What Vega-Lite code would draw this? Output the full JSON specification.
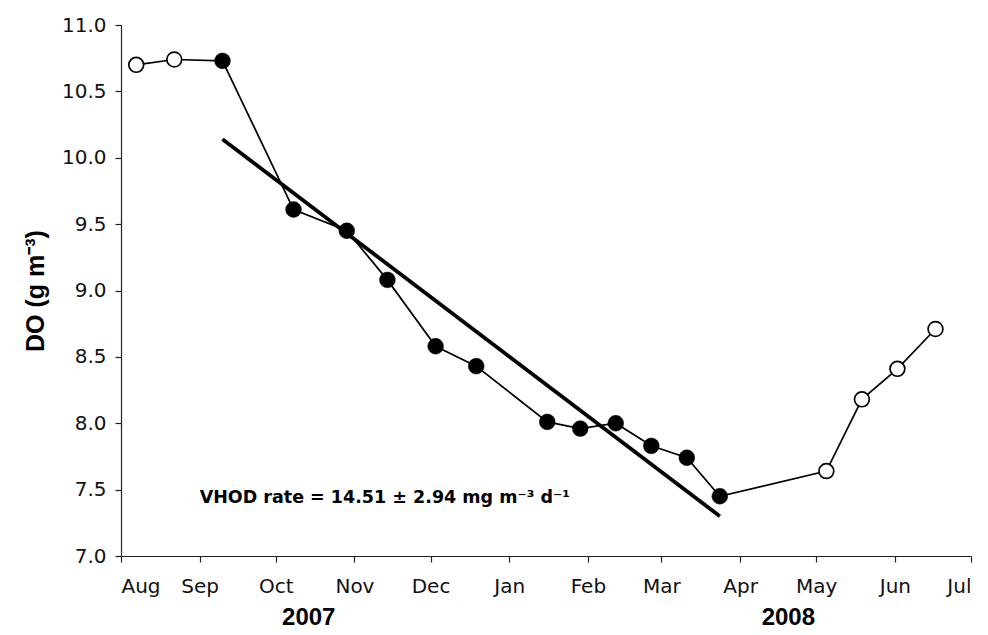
{
  "$schema": "https://vega.github.io/schema/vega-lite/v6.json",
  "autosize": {"type": "none"},
  "width": 850,
  "height": 531,
  "padding": {"left": 121, "top": 25, "right": 17, "bottom": 79},
  "background": "white",
  "config": {
    "view": {"stroke": null},
    "font": "Liberation Sans",
    "axis": {"grid": false, "domainColor": "#222", "tickColor": "#222", "labelColor": "#111", "labelFont": "DejaVu Sans", "labelFontSize": 20, "tickSize": 6, "domainWidth": 1.2, "tickWidth": 1.2}
  },
  "datasets": {
    "obs": [
      {"date": "2007-08-07", "DO": 10.70, "type": "open"},
      {"date": "2007-08-22", "DO": 10.74, "type": "open"},
      {"date": "2007-09-10", "DO": 10.73, "type": "filled"},
      {"date": "2007-10-08", "DO": 9.61, "type": "filled"},
      {"date": "2007-10-29", "DO": 9.45, "type": "filled"},
      {"date": "2007-11-14", "DO": 9.08, "type": "filled"},
      {"date": "2007-12-03", "DO": 8.58, "type": "filled"},
      {"date": "2007-12-19", "DO": 8.43, "type": "filled"},
      {"date": "2008-01-16", "DO": 8.01, "type": "filled"},
      {"date": "2008-01-29", "DO": 7.96, "type": "filled"},
      {"date": "2008-02-12", "DO": 8.00, "type": "filled"},
      {"date": "2008-02-26", "DO": 7.83, "type": "filled"},
      {"date": "2008-03-11", "DO": 7.74, "type": "filled"},
      {"date": "2008-03-24", "DO": 7.45, "type": "filled"},
      {"date": "2008-05-05", "DO": 7.64, "type": "open"},
      {"date": "2008-05-19", "DO": 8.18, "type": "open"},
      {"date": "2008-06-02", "DO": 8.41, "type": "open"},
      {"date": "2008-06-17", "DO": 8.71, "type": "open"}
    ],
    "trend": [
      {"date": "2007-09-10", "DO": 10.14},
      {"date": "2008-03-24", "DO": 7.30}
    ],
    "years": [
      {"date": "2007-10-14", "DO": 6.53, "label": "2007"},
      {"date": "2008-04-20", "DO": 6.53, "label": "2008"}
    ],
    "note": [
      {"date": "2007-09-01", "DO": 7.44, "label": "VHOD rate = 14.51 ± 2.94 mg m⁻³ d⁻¹"}
    ]
  },
  "encoding": {
    "x": {
      "field": "date", "type": "temporal",
      "scale": {"type": "utc", "domain": [{"year": 2007, "month": 8, "date": 1, "utc": true}, {"year": 2008, "month": 7, "date": 1, "utc": true}]},
      "axis": {
        "title": null, "format": "%b", "labelPadding": 14,
        "values": [
          {"year": 2007, "month": 8, "date": 1, "utc": true},
          {"year": 2007, "month": 9, "date": 1, "utc": true},
          {"year": 2007, "month": 10, "date": 1, "utc": true},
          {"year": 2007, "month": 11, "date": 1, "utc": true},
          {"year": 2007, "month": 12, "date": 1, "utc": true},
          {"year": 2008, "month": 1, "date": 1, "utc": true},
          {"year": 2008, "month": 2, "date": 1, "utc": true},
          {"year": 2008, "month": 3, "date": 1, "utc": true},
          {"year": 2008, "month": 4, "date": 1, "utc": true},
          {"year": 2008, "month": 5, "date": 1, "utc": true},
          {"year": 2008, "month": 6, "date": 1, "utc": true},
          {"year": 2008, "month": 7, "date": 1, "utc": true}
        ]
      }
    },
    "y": {
      "field": "DO", "type": "quantitative",
      "scale": {"domain": [7, 11], "nice": false, "zero": false},
      "axis": {
        "title": "DO (g m⁻³)", "titleFont": "Liberation Sans", "titleFontSize": 25, "titleFontWeight": "bold", "titleColor": "#000", "titlePadding": 13,
        "values": [7, 7.5, 8, 8.5, 9, 9.5, 10, 10.5, 11], "format": ".1f", "labelPadding": 9
      }
    }
  },
  "layer": [
    {
      "data": {"name": "obs"},
      "mark": {"type": "line", "color": "#000", "strokeWidth": 1.7}
    },
    {
      "data": {"name": "trend"},
      "mark": {"type": "line", "color": "#000", "strokeWidth": 3.8}
    },
    {
      "data": {"name": "obs"},
      "transform": [{"filter": "datum.type === 'open'"}],
      "mark": {"type": "point", "shape": "circle", "filled": true, "fill": "white", "stroke": "#000", "strokeWidth": 1.7, "size": 220, "opacity": 1}
    },
    {
      "data": {"name": "obs"},
      "transform": [{"filter": "datum.type === 'filled'"}],
      "mark": {"type": "point", "shape": "circle", "filled": true, "fill": "#000", "stroke": "#000", "strokeWidth": 0.5, "size": 250, "opacity": 1}
    },
    {
      "data": {"name": "note"},
      "mark": {"type": "text", "align": "left", "baseline": "middle", "font": "DejaVu Sans", "fontSize": 17.5, "fontWeight": "bold", "color": "#000"},
      "encoding": {"text": {"field": "label"}}
    },
    {
      "data": {"name": "years"},
      "mark": {"type": "text", "align": "center", "baseline": "middle", "font": "Liberation Sans", "fontSize": 24, "fontWeight": "bold", "color": "#000", "clip": false},
      "encoding": {"text": {"field": "label"}}
    }
  ]
}
